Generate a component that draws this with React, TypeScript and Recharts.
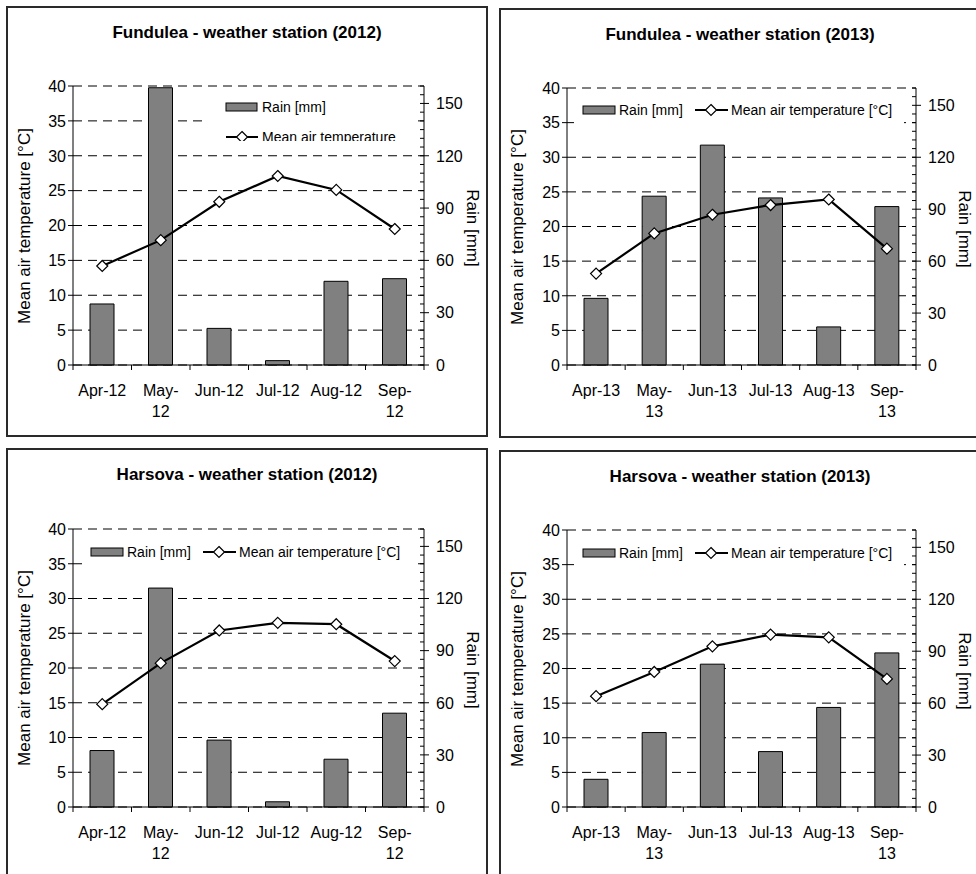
import React from 'react';
import { ComposedChart, Bar, Line, XAxis, YAxis, CartesianGrid } from 'recharts';

// categories and tick labels (two-line labels where the original wraps)
const months2012 = ['Apr-12', 'May-12', 'Jun-12', 'Jul-12', 'Aug-12', 'Sep-12'];
const months2013 = ['Apr-13', 'May-13', 'Jun-13', 'Jul-13', 'Aug-13', 'Sep-13'];
const tickLabels2012 = [['Apr-12'], ['May-', '12'], ['Jun-12'], ['Jul-12'], ['Aug-12'], ['Sep-', '12']];
const tickLabels2013 = [['Apr-13'], ['May-', '13'], ['Jun-13'], ['Jul-13'], ['Aug-13'], ['Sep-', '13']];

// rain [mm] (right axis) and mean air temperature [°C] (left axis)
const fundulea2012Rain = [35, 159, 21, 2.5, 48, 49.5];
const fundulea2012Temp = [14.2, 17.9, 23.4, 27.1, 25.1, 19.5];
const fundulea2013Rain = [38.5, 97.5, 127, 96.5, 22, 91.5];
const fundulea2013Temp = [13.2, 19.0, 21.7, 23.1, 23.9, 16.8];
const harsova2012Rain = [32.5, 126, 38.5, 3, 27.5, 54];
const harsova2012Temp = [14.8, 20.7, 25.4, 26.5, 26.3, 21.0];
const harsova2013Rain = [16, 43, 82.5, 32, 57.5, 89];
const harsova2013Temp = [16.0, 19.5, 23.2, 24.9, 24.5, 18.5];

const tempTicks = [0, 5, 10, 15, 20, 25, 30, 35, 40];
const rainMajorTicks = [0, 30, 60, 90, 120, 150];
const rainMinorTicks = [
  0, 5, 10, 15, 20, 25, 30, 35, 40, 45, 50, 55, 60, 65, 70, 75, 80, 85, 90, 95, 100,
  105, 110, 115, 120, 125, 130, 135, 140, 145, 150, 155, 160,
];

const FONT = '"Liberation Sans", Arial, Helvetica, sans-serif';

interface Box { x0: number; y0: number; w: number; h: number; plotL: number; plotR: number; plotT: number; plotB: number; }
interface LegendBox { left: number; top: number; width: number; height: number; twoRows: boolean; }

const LeftTick = (props: any) => {
  const { x, y, payload } = props;
  return (
    <g>
      <line x1={x - 5} x2={x} y1={y} y2={y} stroke="#000" />
      <text x={x - 7} y={y} dy="0.36em" textAnchor="end" fontSize={16} fontFamily={FONT} fill="#000">
        {payload.value}
      </text>
    </g>
  );
};

const RightTick = (props: any) => {
  const { x, y, payload } = props;
  const major = rainMajorTicks.includes(payload.value);
  return (
    <g>
      <line x1={x - 4} x2={major ? x + 5 : x} y1={y} y2={y} stroke="#000" />
      {major && (
        <text x={x + 12} y={y} dy="0.36em" textAnchor="start" fontSize={16} fontFamily={FONT} fill="#000">
          {payload.value}
        </text>
      )}
    </g>
  );
};

const makeBottomTick = (labels: string[][], band: number) => (props: any) => {
  const { x, y, payload } = props;
  const index = props.index ?? payload.index;
  const lines = labels[index] || [String(payload.value)];
  return (
    <g>
      <line x1={x - band / 2} x2={x - band / 2} y1={y} y2={y + 5} stroke="#000" />
      {index === labels.length - 1 && <line x1={x + band / 2} x2={x + band / 2} y1={y} y2={y + 5} stroke="#000" />}
      <text x={x} y={y + 31} textAnchor="middle" fontSize={16} fontFamily={FONT} fill="#000">
        {lines.map((l, i) => (
          <tspan key={i} x={x} dy={i === 0 ? 0 : 21}>{l}</tspan>
        ))}
      </text>
    </g>
  );
};

const Diamond = (props: any) => {
  const { cx, cy } = props;
  if (cx == null || cy == null) return null;
  return (
    <path
      d={`M${cx},${cy - 5.5} L${cx + 5.5},${cy} L${cx},${cy + 5.5} L${cx - 5.5},${cy} Z`}
      fill="#fff"
      stroke="#000"
      strokeWidth={1.2}
    />
  );
};

const ChartLegend = ({ box, x0, y0 }: { box: LegendBox; x0: number; y0: number }) => {
  const textStyle = { fontSize: 14, fontFamily: FONT, fill: '#000' };
  return (
    <div style={{ position: 'absolute', left: box.left - x0, top: box.top - y0, width: box.width, height: box.height, background: '#fff', overflow: 'hidden' }}>
      <svg width={box.width} height={box.height}>
        {box.twoRows ? (
          <g>
            <rect x={19} y={11} width={31} height={8} fill="#808080" stroke="#000" strokeWidth={1} />
            <text x={55} y={15} dominantBaseline="central" style={textStyle}>Rain [mm]</text>
            <line x1={19} x2={51} y1={45} y2={45} stroke="#000" strokeWidth={2} />
            <Diamond cx={35} cy={45} />
            <text x={55} y={45} dominantBaseline="central" style={textStyle}>Mean air temperature</text>
          </g>
        ) : (
          <g>
            <rect x={9} y={9} width={32} height={8} fill="#808080" stroke="#000" strokeWidth={1} />
            <text x={45} y={13} dominantBaseline="central" style={textStyle}>Rain [mm]</text>
            <line x1={121} x2={154} y1={13} y2={13} stroke="#000" strokeWidth={2} />
            <Diamond cx={137} cy={13} />
            <text x={157} y={13} dominantBaseline="central" style={textStyle}>Mean air temperature [°C]</text>
          </g>
        )}
      </svg>
    </div>
  );
};

interface PanelProps {
  box: Box;
  legend: LegendBox;
  title: string;
  categories: string[];
  tickLabels: string[][];
  rain: number[];
  temp: number[];
}

const Panel = ({ box, legend, title, categories, tickLabels, rain, temp }: PanelProps) => {
  const data = categories.map((m, i) => ({ month: m, rain: rain[i], temp: temp[i] }));
  const leftW = box.plotL - box.x0;
  const rightW = box.x0 + box.w - box.plotR;
  const topM = box.plotT - box.y0;
  const bottomH = box.y0 + box.h - box.plotB;
  const band = (box.plotR - box.plotL) / categories.length;
  const midY = (box.plotT + box.plotB) / 2 - box.y0;
  const labelStyle: React.CSSProperties = {
    position: 'absolute', whiteSpace: 'nowrap', fontSize: 17, fontFamily: FONT, color: '#000', lineHeight: 1,
  };

  return (
    <div style={{ position: 'absolute', left: box.x0, top: box.y0, width: box.w, height: box.h }}>
      <ComposedChart width={box.w} height={box.h} data={data} margin={{ top: topM, right: 0, bottom: 0, left: 0 }}>
        <CartesianGrid yAxisId="temp" vertical={false} stroke="#000" strokeDasharray="9 6" />
        <XAxis
          dataKey="month"
          height={bottomH}
          interval={0}
          tickSize={0}
          tickMargin={0}
          tickLine={false}
          axisLine={{ stroke: '#000' }}
          tick={makeBottomTick(tickLabels, band)}
        />
        <YAxis
          yAxisId="temp"
          orientation="left"
          width={leftW}
          domain={[0, 40]}
          ticks={tempTicks}
          interval={0}
          tickSize={0}
          tickMargin={0}
          tickLine={false}
          axisLine={{ stroke: '#000' }}
          tick={LeftTick}
        />
        <YAxis
          yAxisId="rain"
          orientation="right"
          width={rightW}
          domain={[0, 160]}
          ticks={rainMinorTicks}
          interval={0}
          tickSize={0}
          tickMargin={0}
          tickLine={false}
          axisLine={{ stroke: '#000' }}
          tick={RightTick}
        />
        <Bar yAxisId="rain" dataKey="rain" fill="#808080" stroke="#000" strokeWidth={1} barSize={24} isAnimationActive={false} />
        <Line
          yAxisId="temp"
          dataKey="temp"
          type="linear"
          stroke="#000"
          strokeWidth={2.2}
          dot={(p: any) => <Diamond key={p.index} cx={p.cx} cy={p.cy} />}
          activeDot={false}
          isAnimationActive={false}
        />
      </ComposedChart>

      <ChartLegend box={legend} x0={box.x0} y0={box.y0} />

      <div style={{ ...labelStyle, left: 241, top: 26, transform: 'translate(-50%, -50%)', fontWeight: 'bold' }}>{title}</div>
      <div style={{ ...labelStyle, left: 18, top: midY, transform: 'translate(-50%, -50%) rotate(-90deg)' }}>
        Mean air temperature [°C]
      </div>
      <div style={{ ...labelStyle, left: box.plotR - box.x0 + 48, top: midY + 2, transform: 'translate(-50%, -50%) rotate(90deg)' }}>
        Rain [mm]
      </div>

      <div style={{ position: 'absolute', left: 0, top: 0, width: box.w, height: box.h, boxSizing: 'border-box', border: '2px solid #2a2a2a', pointerEvents: 'none' }} />
    </div>
  );
};

const box1: Box = { x0: 6, y0: 6, w: 482, h: 431, plotL: 73, plotR: 424, plotT: 86, plotB: 365 };
const box2: Box = { x0: 499, y0: 8, w: 490, h: 430, plotL: 567, plotR: 916, plotT: 88, plotB: 365 };
const box3: Box = { x0: 6, y0: 448, w: 482, h: 440, plotL: 73, plotR: 424, plotT: 529, plotB: 807 };
const box4: Box = { x0: 499, y0: 450, w: 490, h: 440, plotL: 567, plotR: 916, plotT: 530, plotB: 807 };

const legend1: LegendBox = { left: 207, top: 92, width: 205, height: 49, twoRows: true };
const legend2: LegendBox = { left: 574, top: 97, width: 330, height: 27, twoRows: false };
const legend3: LegendBox = { left: 82, top: 539, width: 330, height: 27, twoRows: false };
const legend4: LegendBox = { left: 574, top: 540, width: 330, height: 27, twoRows: false };

export default function App() {
  return (
    <div style={{ position: 'fixed', left: 0, top: 0, width: 976, height: 874, overflow: 'hidden', background: '#fff' }}>
      <Panel box={box1} legend={legend1} title="Fundulea - weather station (2012)" categories={months2012}
        tickLabels={tickLabels2012} rain={fundulea2012Rain} temp={fundulea2012Temp} />
      <Panel box={box2} legend={legend2} title="Fundulea - weather station (2013)" categories={months2013}
        tickLabels={tickLabels2013} rain={fundulea2013Rain} temp={fundulea2013Temp} />
      <Panel box={box3} legend={legend3} title="Harsova - weather station (2012)" categories={months2012}
        tickLabels={tickLabels2012} rain={harsova2012Rain} temp={harsova2012Temp} />
      <Panel box={box4} legend={legend4} title="Harsova - weather station (2013)" categories={months2013}
        tickLabels={tickLabels2013} rain={harsova2013Rain} temp={harsova2013Temp} />
    </div>
  );
}
